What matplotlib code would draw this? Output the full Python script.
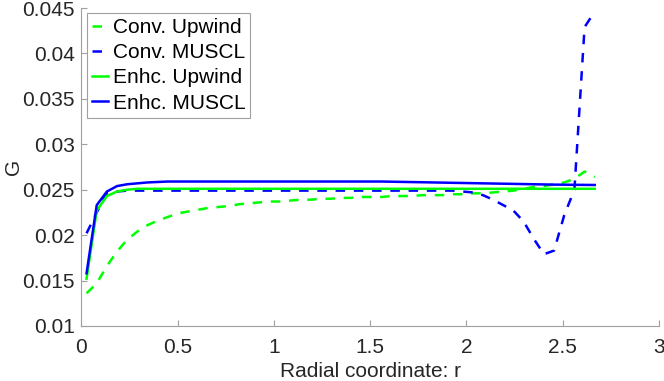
import matplotlib.pyplot as plt
import numpy as np
from matplotlib.ticker import FormatStrFormatter

plt.rcParams['font.family'] = ['Liberation Sans', 'DejaVu Sans']

# radial grid (cell centres)
r = np.linspace(0.0264, 2.6664, 51)

conv_upwind = [0.0136, 0.0147, 0.0166, 0.0182, 0.0195, 0.0204, 0.0211, 0.0216, 0.0220, 0.0224,
               0.0226, 0.0228, 0.0230, 0.0231, 0.0232, 0.0234, 0.0235, 0.0236, 0.0237, 0.0237,
               0.0238, 0.0239, 0.0239, 0.0240, 0.0240, 0.0241, 0.0241, 0.0242, 0.0242, 0.0242,
               0.0243, 0.0243, 0.0243, 0.0244, 0.0244, 0.0244, 0.0245, 0.0245, 0.0246, 0.0246,
               0.0247, 0.0248, 0.0249, 0.0251, 0.0253, 0.0254, 0.0256, 0.0258, 0.0262, 0.0270,
               0.0264]

conv_muscl = [0.0202, 0.0225, 0.0246, 0.0248, 0.0249, 0.0249, 0.0249, 0.0249, 0.0249, 0.0249,
              0.0249, 0.0249, 0.0249, 0.0249, 0.0249, 0.0249, 0.0249, 0.0249, 0.0249, 0.0249,
              0.0249, 0.0249, 0.0249, 0.0249, 0.0249, 0.0249, 0.0249, 0.0249, 0.0249, 0.0249,
              0.0249, 0.0249, 0.0249, 0.0249, 0.0249, 0.0249, 0.0249, 0.0248, 0.0247, 0.0244,
              0.0239, 0.0233, 0.0227, 0.0215, 0.0196, 0.0179, 0.0183, 0.0222, 0.0250, 0.0429,
              0.0446]

enhc_upwind = [0.0152, 0.0227, 0.0243, 0.0248, 0.0250, 0.0251, 0.0251, 0.0251, 0.0251, 0.0251,
               0.0251, 0.0251, 0.0251, 0.0251, 0.0251, 0.0251, 0.0251, 0.0251, 0.0251, 0.0251,
               0.0251, 0.0251, 0.0251, 0.0251, 0.0251, 0.0251, 0.0251, 0.0251, 0.0251, 0.0251,
               0.0251, 0.0251, 0.0251, 0.0251, 0.0251, 0.0251, 0.0251, 0.0251, 0.0251, 0.0251,
               0.0251, 0.0251, 0.0251, 0.0251, 0.0251, 0.0251, 0.0251, 0.0251, 0.0251, 0.0251,
               0.0251]

enhc_muscl = [0.0158, 0.0233, 0.0248, 0.0254, 0.0256, 0.0257, 0.0258, 0.02585, 0.0259, 0.0259,
              0.0259, 0.0259, 0.0259, 0.0259, 0.0259, 0.0259, 0.0259, 0.0259, 0.0259, 0.0259,
              0.0259, 0.0259, 0.0259, 0.0259, 0.0259, 0.0259, 0.0259, 0.0259, 0.0259, 0.0259,
              0.02588, 0.02586, 0.02584, 0.02582, 0.0258, 0.02578, 0.02576, 0.02574, 0.02572, 0.0257,
              0.02568, 0.02566, 0.02564, 0.02562, 0.0256, 0.02558, 0.02556, 0.02555, 0.02554, 0.02553,
              0.02552]

xticks = [0, 0.5, 1, 1.5, 2, 2.5, 3]
yticks = [0.01, 0.015, 0.02, 0.025, 0.03, 0.035, 0.04, 0.045]

green = '#00ff00'
blue = '#0000ff'
dash = (0, (3.8, 3.5))
gray = '#a0a0a0'
lw = 1.8

fig = plt.figure(figsize=(6.64, 3.81), dpi=100)
ax = fig.add_axes([0.1227, 0.1444, 0.8697, 0.8346])

ax.plot(r, conv_upwind, color=green, ls=dash, lw=lw, label='Conv. Upwind')
ax.plot(r, conv_muscl, color=blue, ls=dash, lw=lw, label='Conv. MUSCL')
ax.plot(r, enhc_upwind, color=green, lw=lw, label='Enhc. Upwind')
ax.plot(r, enhc_muscl, color=blue, lw=lw, label='Enhc. MUSCL')

ax.set_xlim(0, 3)
ax.set_ylim(0.01, 0.045)
ax.set_xticks(xticks)
ax.set_yticks(yticks)
ax.xaxis.set_major_formatter(FormatStrFormatter('%g'))
ax.yaxis.set_major_formatter(FormatStrFormatter('%g'))

for s in ['top', 'right']:
    ax.spines[s].set_visible(False)
for s in ['left', 'bottom']:
    ax.spines[s].set_color(gray)
    ax.spines[s].set_linewidth(0.8)
ax.tick_params(direction='in', length=4, width=0.8, color=gray,
               labelsize=15, labelcolor='#262626')
ax.tick_params(axis='x', pad=9)
ax.tick_params(axis='y', pad=5)

ax.set_xlabel('Radial coordinate: r', fontsize=15, color='#262626', labelpad=3)
ax.set_ylabel('G', fontsize=15, color='#262626', labelpad=-1)

leg = ax.legend(loc='upper left', bbox_to_anchor=(0.010, 0.985), borderaxespad=0,
                fontsize=15, handlelength=0.77, handletextpad=0.2, labelspacing=0.3,
                borderpad=0.25, fancybox=False, framealpha=1)
leg.get_frame().set_edgecolor(gray)
leg.get_frame().set_linewidth(0.8)

plt.savefig('out.png', dpi=100)
